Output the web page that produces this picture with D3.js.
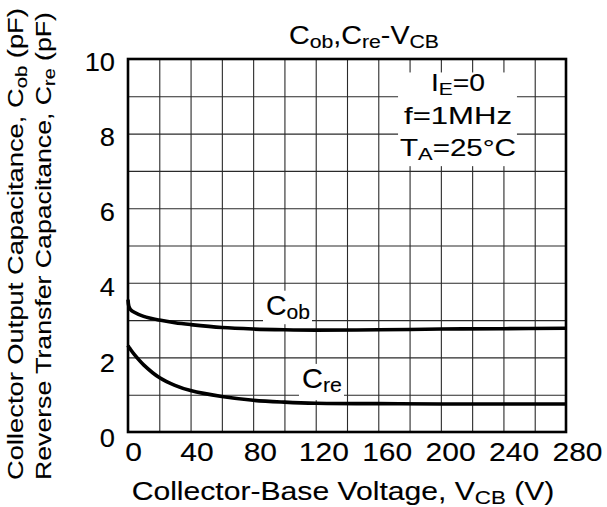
<!DOCTYPE html>
<html>
<head>
<meta charset="utf-8">
<script src="https://cdn.jsdelivr.net/npm/d3@7"></script>
<style>
  body { margin: 0; background: #fff; }
  text { font-family: "Liberation Sans", Arial, sans-serif; fill: #000; stroke: #000; stroke-width: 0.12px; }
</style>
</head>
<body>
<div id="chart"></div>
<script>
// values
const vcb = [0, 0.5, 1.5, 4, 10, 20, 30, 40, 60, 80, 100, 120, 160, 200, 240, 280];
const cob = [3.55, 3.38, 3.29, 3.21, 3.1, 3.0, 2.93, 2.88, 2.8, 2.76, 2.74, 2.73, 2.74, 2.76, 2.77, 2.78];
const cre = [2.32, 2.28, 2.22, 2.08, 1.8, 1.46, 1.25, 1.11, 0.95, 0.85, 0.8, 0.77, 0.76, 0.75, 0.75, 0.75];
const xTicks = [0, 40, 80, 120, 160, 200, 240, 280];
const yTicks = [0, 2, 4, 6, 8, 10];
const conditions = ['I_{E}=0', 'f=1MHz', 'T_{A}=25°C'];
const title = 'C_{ob},C_{re}-V_{CB}';
const xTitle = 'Collector-Base Voltage, V_{CB} (V)';
const yTitles = ['Collector Output Capacitance, C_{ob} (pF)', 'Reverse Transfer Capacitance, C_{re} (pF)'];

const width = 607, height = 507;
const pLeft = 128, pRight = 566, pTop = 59, pBottom = 432;

const svg = d3.select('#chart').append('svg')
  .attr('width', width)
  .attr('height', height);

const x = d3.scaleLinear().domain([0, 280]).range([pLeft, pRight]);
const y = d3.scaleLinear().domain([0, 10]).range([pBottom, pTop]);
// tick labels in the original sit a bit wider than the grid
const xLab = d3.scaleLinear().domain([0, 280]).range([133, 577]);
const yLab = d3.scaleLinear().domain([0, 10]).range([438, 62]);

// text with _{sub} parts
function rich(parent, str, size) {
  const t = parent.append('text').attr('font-size', size);
  const parts = str.split(/_\{([^}]*)\}/);
  let down = false;
  parts.forEach((p, i) => {
    if (!p) return;
    const sub = i % 2 === 1;
    const ts = t.append('tspan').text(p);
    if (sub) {
      ts.attr('font-size', size * 0.74).attr('dy', size * 0.16);
      down = true;
    } else if (down) {
      ts.attr('dy', -size * 0.16);
      down = false;
    }
  });
  return t;
}

// put text at (px,py) and stretch it to width w
function place(t, px, py, w, anchor, rot) {
  t.attr('text-anchor', anchor || 'middle');
  const bw = t.node().getBBox().width;
  const s = w ? w / bw : 1;
  t.attr('transform', `translate(${px},${py})` + (rot ? ` rotate(${rot})` : '') + ` scale(${s},1)`);
  return t;
}

// grid
svg.append('g')
  .attr('transform', `translate(0,${pBottom})`)
  .call(d3.axisBottom(x).tickValues(d3.range(20, 280, 20)).tickSize(-(pBottom - pTop)).tickFormat(''))
  .call(g => g.select('.domain').remove())
  .selectAll('line').attr('stroke', '#2a2a2a').attr('stroke-width', 1.1);

svg.append('g')
  .attr('transform', `translate(${pLeft},0)`)
  .call(d3.axisLeft(y).tickValues(d3.range(1, 10)).tickSize(-(pRight - pLeft)).tickFormat(''))
  .call(g => g.select('.domain').remove())
  .selectAll('line').attr('stroke', '#2a2a2a').attr('stroke-width', 1.1);

// condition box
const cond = svg.append('g');
const condY = [91, 124, 156];
const condW = [54, 108, 116];
conditions.forEach((c, i) => {
  place(rich(cond, c, 23), 458, condY[i], condW[i]);
});
function boxUnder(g, pl, pr, pt, pb) {
  const r = g.node().getBoundingClientRect();
  g.insert('rect', ':first-child')
    .attr('x', r.left - pl).attr('y', r.top - pt)
    .attr('width', r.width + pl + pr).attr('height', r.height + pt + pb)
    .attr('fill', '#fff')
    .attr('stroke', 'none');
}
boxUnder(cond, 2, 1, -2, 3);

// curve labels
const lob = svg.append('g');
place(rich(lob, 'C_{ob}', 27), 288, 315, 44);
boxUnder(lob, 3, 2, 0, 1);
const lre = svg.append('g');
place(rich(lre, 'C_{re}', 27), 322, 388, 40);
boxUnder(lre, 3, 2, 0, 4);

// curves
const line = d3.line()
  .curve(d3.curveCatmullRom.alpha(0.5))
  .x(d => x(d[0]))
  .y(d => y(d[1]));

[cob, cre].forEach(s => {
  svg.append('path')
    .datum(vcb.map((v, i) => [v, s[i]]))
    .attr('fill', 'none')
    .attr('stroke', '#000')
    .attr('stroke-width', 3.6)
    .attr('stroke-linejoin', 'round')
    .attr('d', line);
});

// frame
svg.append('rect')
  .attr('x', pLeft).attr('y', pTop)
  .attr('width', pRight - pLeft).attr('height', pBottom - pTop)
  .attr('fill', 'none')
  .attr('stroke', '#000')
  .attr('stroke-width', 2.6);

// tick labels
svg.append('g')
  .attr('transform', `translate(0,${pBottom})`)
  .call(d3.axisBottom(xLab).tickValues(xTicks).tickSize(0))
  .call(g => g.select('.domain').remove())
  .selectAll('text')
  .attr('font-size', 25)
  .attr('font-family', null)
  .attr('y', 29).attr('dy', 0)
  .attr('transform', 'scale(1.2,1)');

svg.append('g')
  .attr('transform', 'translate(115,0)')
  .call(d3.axisLeft(yLab).tickValues(yTicks).tickSize(0).tickPadding(0))
  .call(g => g.select('.domain').remove())
  .selectAll('text')
  .attr('font-size', 26)
  .attr('font-family', null)
  .attr('transform', 'scale(1.05,1)');

// titles
place(rich(svg, title, 25), 364, 44, 150);
place(rich(svg, xTitle, 26), 343, 500, 423);
place(rich(svg, yTitles[0], 22), 23, 480, 472, 'start', -90);
place(rich(svg, yTitles[1], 22), 51, 480, 468, 'start', -90);
</script>
</body>
</html>
